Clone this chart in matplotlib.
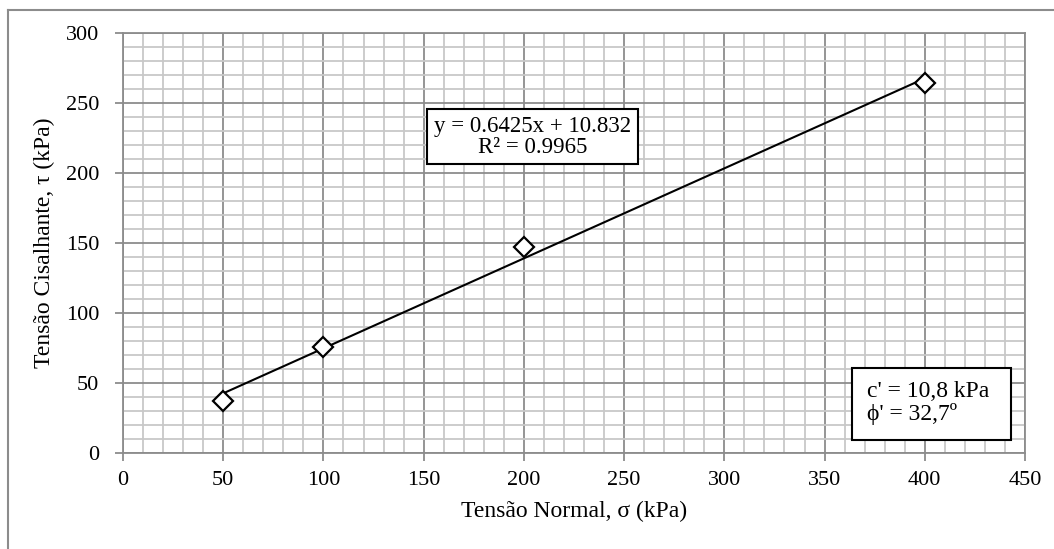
import numpy as np
import matplotlib
matplotlib.use("Agg")
import matplotlib.pyplot as plt
from matplotlib.ticker import MultipleLocator
from matplotlib.lines import Line2D
from matplotlib.patches import Rectangle

# --- dados -----------------------------------------------------------------
sigma = [50, 100, 200, 400]          # tensão normal (kPa)
tau = [37, 76, 147, 264]             # tensão cisalhante (kPa)
eq_text = "y = 0.6425x + 10.832\nR² = 0.9965"
param_text = "c' = 10,8 kPa\nϕ' = 32,7º"

plt.rcParams["font.family"] = ["Liberation Serif", "DejaVu Serif"]

fig = plt.figure(figsize=(10.54, 5.49), dpi=100)
ax = fig.add_axes([123 / 1054, 1 - 453 / 549, 902 / 1054, 420 / 549])

# linha de tendência (ajuste linear)
z = np.polyfit(sigma, tau, 1)
xx = np.array([min(sigma), max(sigma)])
ax.plot(xx, np.polyval(z, xx), color="black", lw=1.5, zorder=3)
ax.plot(sigma, tau, linestyle="none", marker="D", markersize=10,
        markerfacecolor="white", markeredgecolor="black", markeredgewidth=1.6, zorder=4)

ax.set_xlim(0, 450)
ax.set_ylim(0, 300)
ax.xaxis.set_major_locator(MultipleLocator(50))
ax.yaxis.set_major_locator(MultipleLocator(50))
ax.xaxis.set_minor_locator(MultipleLocator(10))
ax.yaxis.set_minor_locator(MultipleLocator(10))
ax.grid(which="minor", color="#c8c8c8", lw=1.3, zorder=0)
ax.grid(which="major", color="#8c8c8c", lw=1.3, zorder=1)
ax.set_axisbelow(True)
ax.tick_params(which="major", direction="out", length=6, width=1.3, color="#8c8c8c",
               labelsize=16)
ax.tick_params(axis="x", pad=7)
ax.tick_params(axis="y", pad=11)
ax.tick_params(which="minor", length=0)
for s in ax.spines.values():
    s.set_color("#8c8c8c")
    s.set_linewidth(1.3)

ax.set_xlabel("Tensão Normal, σ (kPa)", fontsize=17, labelpad=8)
ax.set_ylabel("Tensão Cisalhante, τ (kPa)", fontsize=17, labelpad=8)

ax.text(204.5, 226, eq_text, ha="center", va="center", fontsize=16.5, linespacing=1.0,
        bbox=dict(boxstyle="square,pad=0.3", facecolor="white", edgecolor="black", lw=1.5),
        zorder=5)

# caixa dos parâmetros (largura fixa, como a caixa de texto do Excel)
ax.add_patch(Rectangle((363.7, 9.3), 79.3, 51.4, facecolor="white", edgecolor="black",
                       lw=1.5, zorder=5))
ax.text(371, 35.7, param_text, ha="left", va="center", fontsize=17, linespacing=1.05,
        zorder=6)

# moldura externa (esquerda e topo)
fig.add_artist(Line2D([8 / 1054, 8 / 1054], [0, 1 - 10 / 549], color="#8c8c8c", lw=1.5))
fig.add_artist(Line2D([8 / 1054, 1], [1 - 10 / 549, 1 - 10 / 549], color="#8c8c8c", lw=1.5))

fig.savefig("out.png", dpi=100)
